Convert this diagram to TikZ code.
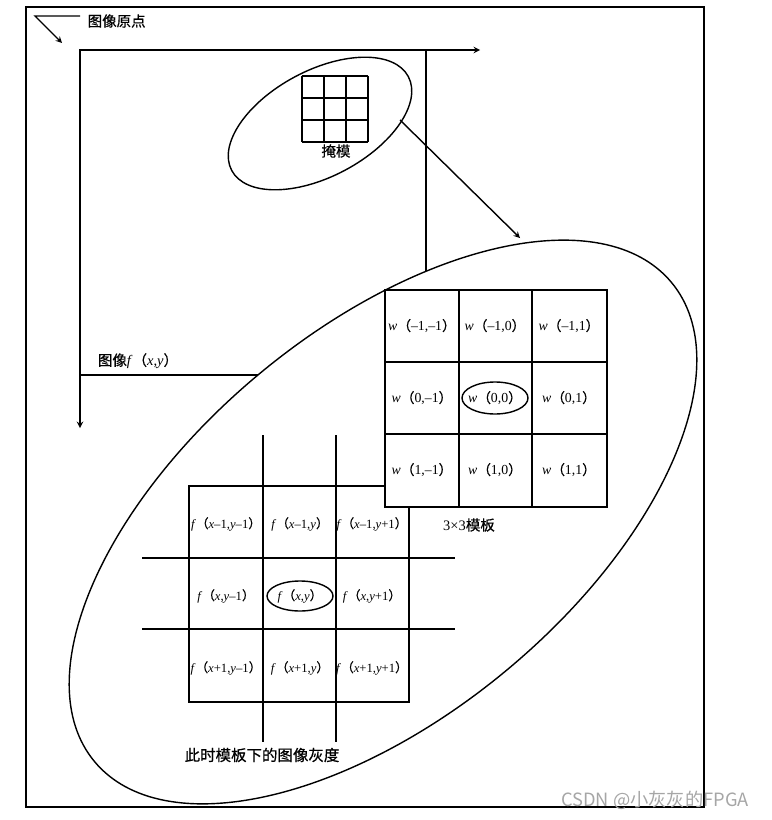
\documentclass[tikz,border=0pt]{standalone}
\usepackage{fontspec}
\setmainfont{Liberation Serif}
\newfontfamily\cjk{Noto Sans CJK SC}[FakeBold=0.6]
\newfontfamily\marksans{Noto Sans CJK SC}
\newcommand{\zh}[1]{{\cjk #1}}
\usetikzlibrary{arrows,positioning}

\begin{document}
\begin{tikzpicture}[x=0.025cm,y=-0.025cm,>=stealth,line width=1pt,
    cell/.style={font=\fontsize{9.8}{11}\selectfont,inner sep=0pt},
    fcell/.style={font=\fontsize{9}{10}\selectfont,inner sep=0pt},
    lbl/.style={font=\fontsize{10.3}{12}\selectfont,inner sep=0pt}]
  \useasboundingbox (0,0) rectangle (771,820);
  \draw (26,7) rectangle (704,807);
  \draw[->] (80,16) -- (35,16) -- (62,43);
  \node[lbl,anchor=west] (origin) at (87,21) {\zh{图像原点}};
  \draw (80,50) rectangle (426,375);
  \draw[->] (80,50) -- (480,50);
  \draw[->] (80,50) -- (80,428);
  \node[lbl] (imglbl) at (138,361) {\zh{图像}\textit{f}\zh{（}\textit{x},\textit{y}\zh{）}};
  \draw[rotate around={28:(320,123.5)}] (320,123.5) ellipse [x radius=100, y radius=53];
  \foreach \i in {0,...,3} {
    \draw (302+22*\i,76) -- (302+22*\i,142);
    \draw (302,76+22*\i) -- (368,76+22*\i);
  }
  \node[lbl] (masklbl) at (336,151) {\zh{掩模}};
  \coordinate (maskedge) at (400,120);
  \coordinate (bigedge) at (520,238);
  \draw[->] (maskedge) -- (bigedge);
  \filldraw[fill=white,rotate around={39.7:(383,522)}] (383,522) ellipse [x radius=375, y radius=193];
  \foreach \xx in {263,336} \draw (\xx,435) -- (\xx,742);
  \foreach \yy in {558,629} \draw (142,\yy) -- (455,\yy);
  \draw (189,486) rectangle (409,702);
  \foreach \r/\rl [count=\i] in {524/\textit{x}–1,596/\textit{x},668/\textit{x}+1}
    \foreach \c/\cl [count=\j] in {226/\textit{y}–1,300/\textit{y},372/\textit{y}+1}
      \node[fcell] (f\i\j) at (\c,\r) {\textit{f}\zh{（}\rl,\cl\zh{）}};
  \draw (f22.center) ellipse [x radius=33, y radius=15];
  \filldraw[fill=white] (385,290) rectangle (607,507);
  \foreach \xx in {459,532} \draw (\xx,290) -- (\xx,507);
  \foreach \yy in {362,434} \draw (385,\yy) -- (607,\yy);
  \foreach \r/\rl [count=\i] in {326/–1,398/0,470/1}
    \foreach \c/\cl [count=\j] in {422/–1,495/0,569/1}
      \node[cell] (w\i\j) at (\c,\r) {\textit{w}\zh{（}\rl,\cl\zh{）}};
  \draw (w22.center) ellipse [x radius=33, y radius=16];
  \node[lbl] (tmpllbl) at (469,525) {3×3\zh{模板}};
  \node[lbl,font=\fontsize{11}{13}\selectfont] (graylbl) at (262,755) {\zh{此时模板下的图像灰度}};
  \node[font=\marksans\fontsize{13}{15}\selectfont,text=gray!70,inner sep=0pt] (mark) at (655,800) {CSDN @小灰灰的FPGA};
\end{tikzpicture}
\end{document}
